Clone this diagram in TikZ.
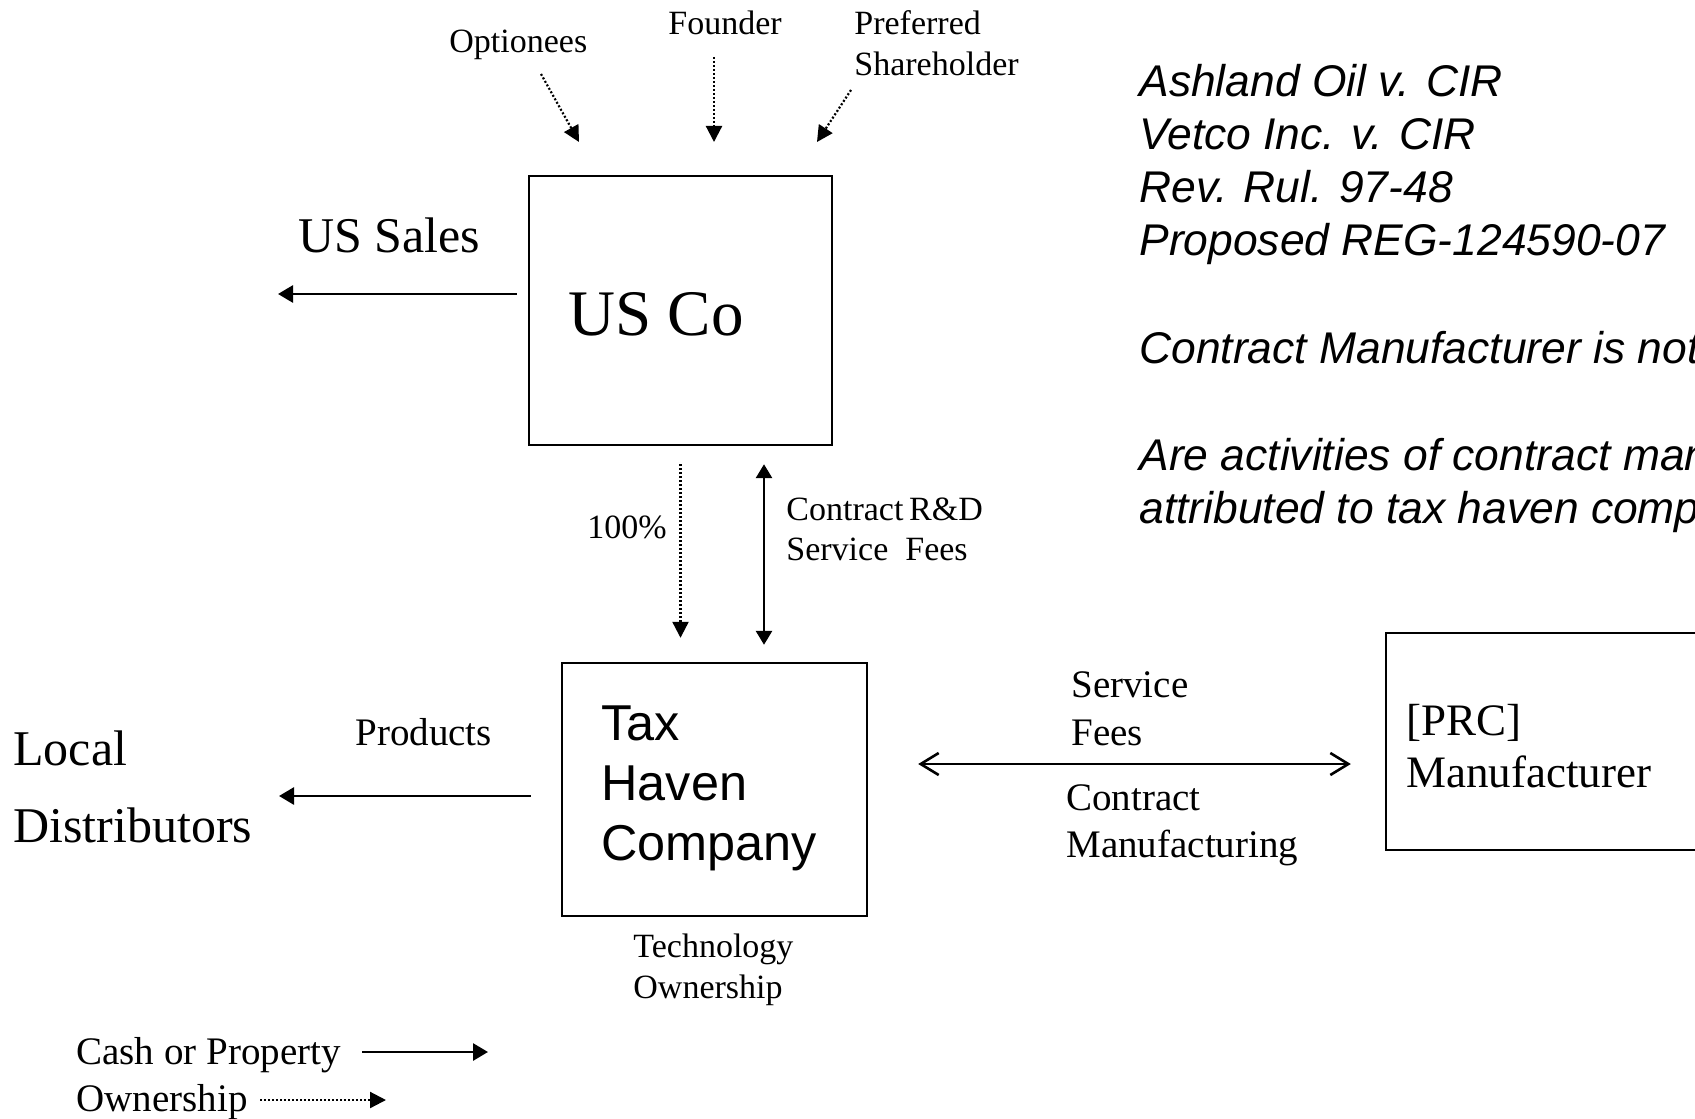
\documentclass[tikz,border=0pt]{standalone}
\usepackage{fontspec}
\setmainfont{Liberation Serif}
\newfontfamily\arialfont{Liberation Sans}
\usetikzlibrary{arrows.meta}

\begin{document}
\begin{tikzpicture}[x=0.5pt,y=-0.5pt,
  box/.style={draw,line width=1.2pt,inner sep=0pt},
  lbl/.style={anchor=base west,inner sep=0pt},
  cash/.style={line width=1.4pt,-{Triangle[length=7.5pt,width=8.5pt]}},
  twoway/.style={line width=1.4pt,{Triangle[length=7pt,width=8pt]}-{Triangle[length=7pt,width=8pt]}},
  barbs/.style={line width=1.3pt,{Straight Barb[length=9pt,width=11pt]}-{Straight Barb[length=9pt,width=11pt]}},
  own/.style={line width=1.1pt,dash pattern=on 1pt off 1pt,-{Triangle[length=8pt,width=8pt]}},
  big/.style={font=\fontsize{32.5}{39}\selectfont},
  large/.style={font=\fontsize{25}{30}\selectfont},
  sans/.style={font=\arialfont\fontsize{25.2}{30}\selectfont},
  mid/.style={font=\fontsize{22.5}{27}\selectfont},
  med/.style={font=\fontsize{19.5}{23}\selectfont},
  small/.style={font=\fontsize{17}{20}\selectfont},
  note/.style={font=\arialfont\itshape\fontsize{22.2}{27}\selectfont},
]
\useasboundingbox (0,0) rectangle (1695,1118);
\clip (0,0) rectangle (1695,1118);
\fill[white] (0,0) rectangle (1695,1118);

% boxes
\node[box,minimum width=151.5pt,minimum height=134.5pt] (usco) at (680.5,310.5) {};
\node[box,minimum width=152.5pt,minimum height=126.5pt] (thc) at (714.5,789.5) {};
\node[box,minimum width=175pt,minimum height=108.5pt] (prc) at (1561,741.5) {};

% box texts
\node[lbl,big] (uscot) at (568,335) {US Co};
\node[lbl,sans] (thc1) at (601,740) {Tax};
\node[lbl,sans] (thc2) at (601,800) {Haven};
\node[lbl,sans] (thc3) at (601,860) {Company};
\node[lbl,mid] (prc1) at (1406,735) {[PRC]};
\node[lbl,mid] (prc2) at (1406,787) {Manufacturer};

% shareholders
\node[lbl,small] (optionees) at (449,53) {Optionees};
\node[lbl,small] (founder) at (668,35) {Founder};
\node[lbl,small] (pref1) at (854,35) {Preferred};
\node[lbl,small] (pref2) at (854,76) {Shareholder};
\coordinate (opts) at (541,74);
\coordinate (opte) at (579,142);
\coordinate (fnds) at (714,57);
\coordinate (fnde) at (714,142);
\coordinate (prfs) at (851,90);
\coordinate (prfe) at (817,142);
\draw[own] (opts) -- (opte);
\draw[own] (fnds) -- (fnde);
\draw[own] (prfs) -- (prfe);

% US sales
\node[lbl,large] (ussales) at (298,252) {US Sales};
\coordinate (salesend) at (278,294);
\draw[cash,shorten <=5.5pt] (usco.west |- salesend) -- (salesend);

% ownership and R&D between US Co and the tax haven company
\node[lbl,small] (pct) at (587,538) {100\%};
\draw[own,shorten <=9pt,shorten >=12pt] (usco.south) -- (usco.south |- thc.north);
\coordinate (rd) at (764,0);
\draw[twoway,shorten <=9pt,shorten >=8.5pt] (usco.south -| rd) -- (thc.north -| rd);
\node[lbl,small] (rd1) at (786,520) {Contract\,R\&D};
\node[lbl,small] (rd2) at (786,560) {Service\ \ Fees};

% local distributors
\node[lbl,large] (local) at (13,765) {Local};
\node[lbl,large] (distr) at (13,842) {Distributors};
\node[lbl,med] (products) at (355,745) {Products};
\coordinate (prodend) at (279,796);
\draw[cash,shorten <=15pt] (thc.west |- prodend) -- (prodend);

\node[lbl,small] (tech1) at (633,957) {Technology};
\node[lbl,small] (tech2) at (633,998) {Ownership};

% contract manufacturing
\coordinate (sf) at (0,764);
\draw[barbs,shorten <=25pt,shorten >=17pt] (thc.east |- sf) -- (prc.west |- sf);
\node[lbl,med] (sf1) at (1071,697) {Service};
\node[lbl,med] (sf2) at (1071,745) {Fees};
\node[lbl,med] (cm1) at (1066,810) {Contract};
\node[lbl,med] (cm2) at (1066,857) {Manufacturing};

% authorities and questions
\node[lbl,note] (n1) at (1139,97) {Ashland Oil v. CIR};
\node[lbl,note] (n2) at (1139,150) {Vetco Inc. v. CIR};
\node[lbl,note] (n3) at (1139,203) {Rev. Rul. 97-48};
\node[lbl,note] (n4) at (1139,256) {Proposed REG-124590-07};
\node[lbl,note] (n5) at (1139,363) {Contract Manufacturer is not};
\node[lbl,note] (n6) at (1139,470) {Are activities of contract man};
\node[lbl,note] (n7) at (1139,523) {attributed to tax haven comp};

% legend
\node[lbl,med] (lgcash) at (76,1064) {Cash or Property};
\node[lbl,med] (lgown) at (76,1111) {Ownership};
\coordinate (lc1) at (362,1052);
\coordinate (lc2) at (488,1052);
\coordinate (lo1) at (260,1100);
\coordinate (lo2) at (386,1100);
\draw[cash] (lc1) -- (lc2);
\draw[own] (lo1) -- (lo2);
\end{tikzpicture}
\end{document}
